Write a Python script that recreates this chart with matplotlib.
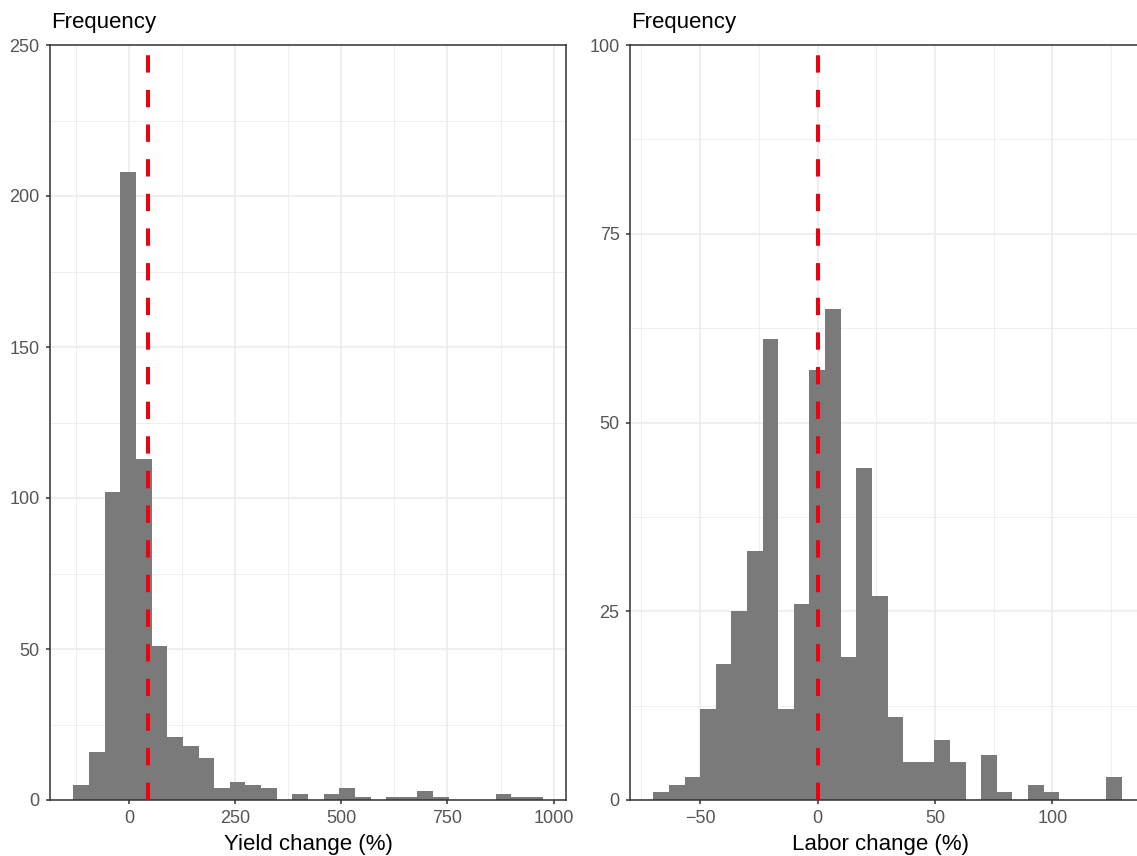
import numpy as np
import matplotlib
matplotlib.use("Agg")
import matplotlib.pyplot as plt
from matplotlib.ticker import MultipleLocator

plt.rcParams['font.family'] = ['Liberation Sans', 'DejaVu Sans']

# ---- data (counts per histogram bin, 30 bins each) ----
yield_counts = [5, 16, 102, 208, 113, 51, 21, 18, 14, 4, 6, 5, 4, 0, 2,
                0, 2, 4, 1, 0, 1, 1, 3, 1, 0, 0, 0, 2, 1, 1]
yield_range = (-131.0, 974.0)
yield_mean = 45.0

labor_counts = [1, 2, 3, 12, 18, 25, 33, 61, 12, 26, 57, 65, 19, 44, 27,
                11, 5, 5, 8, 5, 0, 6, 1, 0, 2, 1, 0, 0, 0, 3]
labor_range = (-69.9, 129.5)
labor_mean = 0.0

x_labels = ["Yield change (%)", "Labor change (%)"]
y_title = "Frequency"

W, H = 1137, 856
fig = plt.figure(figsize=(W / 100, H / 100), dpi=100)

BAR = '#7A7A7A'
RED = '#EE0010'
GRID = '#EBEBEB'
BORDER = '#333333'
TICKTXT = '#555555'


def panel(rect, counts, rng, mean, xmajor, ymajor, ylim, xlabel, label_x=0.5):
    ax = fig.add_axes(rect)
    n = len(counts)
    edges = np.linspace(rng[0], rng[1], n + 1)
    ax.stairs(counts, edges, fill=True, color=BAR, linewidth=0, zorder=2)
    ax.axvline(mean, color=RED, lw=2.9, dashes=(4.3, 4.3), zorder=3)
    span = rng[1] - rng[0]
    ax.set_xlim(rng[0] - 0.05 * span, rng[1] + 0.05 * span)
    ax.set_ylim(*ylim)
    ax.xaxis.set_major_locator(MultipleLocator(xmajor))
    ax.xaxis.set_minor_locator(MultipleLocator(xmajor / 2))
    ax.yaxis.set_major_locator(MultipleLocator(ymajor))
    ax.yaxis.set_minor_locator(MultipleLocator(ymajor / 2))
    ax.set_axisbelow(True)
    ax.grid(which='major', color=GRID, lw=1.1)
    ax.grid(which='minor', color=GRID, lw=0.55)
    for s in ax.spines.values():
        s.set_color(BORDER)
        s.set_linewidth(1.1)
    ax.tick_params(which='major', length=3, width=1.1, color=BORDER,
                   labelsize=13, labelcolor=TICKTXT, pad=4.5)
    ax.tick_params(which='minor', length=0)
    ax.set_xlabel(xlabel, fontsize=16, color='black', va='baseline')
    ax.xaxis.set_label_coords(label_x, -50 / 755)
    ax.annotate(y_title, xy=(0, 1), xycoords='axes fraction', xytext=(1, 12.2),
                textcoords='offset points', ha='left', va='baseline', fontsize=16)
    return ax


bottom = 1 - 800 / H
height = 755 / H
ax1 = panel([50 / W, bottom, 516 / W, height], yield_counts, yield_range, yield_mean,
            250, 50, (0, 250), x_labels[0])
ax2 = panel([630 / W, bottom, 515 / W, height], labor_counts, labor_range, labor_mean,
            50, 25, (0, 100), x_labels[1], label_x=(881 - 630) / 515)

fig.savefig("out.png", dpi=100)
